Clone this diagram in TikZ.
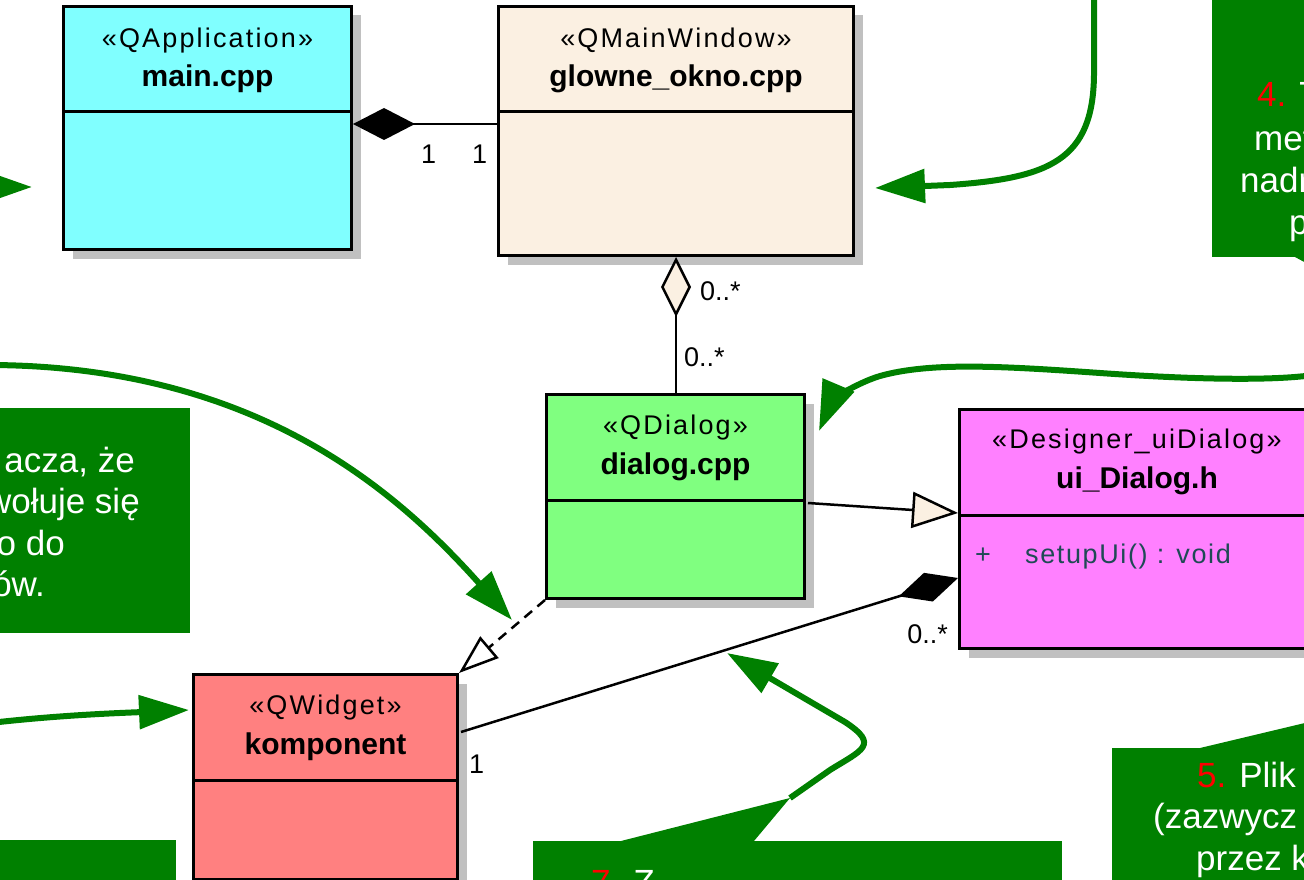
\documentclass[tikz,border=0pt]{standalone}
\usepackage{fontspec}
\setmainfont{Liberation Sans}
\usetikzlibrary{arrows.meta,calc,shadows}

\definecolor{clsCyan}{HTML}{80FFFF}
\definecolor{clsBeige}{HTML}{FBF0E2}
\definecolor{clsGreen}{HTML}{80FF80}
\definecolor{clsMagenta}{HTML}{FF80FF}
\definecolor{clsSalmon}{HTML}{FF8080}
\definecolor{shadowGray}{HTML}{C0C0C0}
\definecolor{noteGreen}{HTML}{008000}
\definecolor{attrTeal}{HTML}{1F4A55}

\tikzset{
  umlbox/.style={draw=black, line width=3pt, anchor=north west, inner sep=0pt,
    drop shadow={shadow xshift=9pt, shadow yshift=-9pt, fill=shadowGray, opacity=1}},
  stereo/.style={font=\fontsize{27}{32}\selectfont\addfontfeatures{LetterSpace=8},
    inner sep=0pt, anchor=base},
  cname/.style={font=\fontsize{30}{36}\selectfont\bfseries, inner sep=0pt, anchor=base},
  attr/.style={font=\fontsize{27}{32}\selectfont\addfontfeatures{LetterSpace=6},
    text=attrTeal, inner sep=0pt, anchor=base west},
  mult/.style={font=\fontsize{27}{32}\selectfont, inner sep=0pt},
  assoc/.style={draw=black, line width=2.5pt},
  garrow/.style={draw=noteGreen, line width=6pt, -{Triangle[length=50pt,width=33pt]}},
  notefill/.style={fill=noteGreen},
  notetxt/.style={font=\fontsize{35}{42}\selectfont, text=white, inner sep=0pt},
}

\begin{document}
\begin{tikzpicture}[x=1pt, y=-1pt]
\useasboundingbox (0,0) rectangle (1304,880);
\clip (0,0) rectangle (1304,880);

% ---------- note boxes (drawn first, behind everything) ----------
\fill[notefill] (-10,408) rectangle (190,633);
\fill[notefill] (1212,-10) rectangle (1320,257);
\fill[notefill] (1295,257) -- (1330,276) -- (1330,257) -- cycle;
\fill[notefill] (1112,748) rectangle (1320,890);
\fill[notefill] (1200,748) -- (1330,717) -- (1330,748) -- cycle;
\fill[notefill] (533,841) rectangle (1062,900);
\fill[notefill] (621,841) -- (790,798) -- (754,841) -- cycle;
\fill[notefill] (-10,840) rectangle (176,900);

% ---------- classes ----------
\node[umlbox, fill=clsCyan, minimum width=288pt, minimum height=243pt] (main) at (62,5) {};
\node[umlbox, fill=clsBeige, minimum width=355pt, minimum height=249pt] (glowne) at (497,5) {};
\node[umlbox, fill=clsGreen, minimum width=258pt, minimum height=204pt] (dialog) at (545,393) {};
\node[umlbox, fill=clsMagenta, minimum width=360pt, minimum height=239pt] (ui) at (958,408) {};
\node[umlbox, fill=clsSalmon, minimum width=264pt, minimum height=205pt] (komp) at (192,673) {};

\foreach \b in {main,glowne,dialog,ui,komp}{
  \draw[line width=3pt] ($(\b.north west)+(0,107)$) -- ($(\b.north east)+(0,107)$);
}

\node[stereo] (mainSt) at ($(main.north)+(0,43)$) {«QApplication»};
\node[cname]  (mainNm) at ($(main.north)+(0,82)$) {main.cpp};
\node[stereo] (glowneSt) at ($(glowne.north)+(0,43)$) {«QMainWindow»};
\node[cname]  (glowneNm) at ($(glowne.north)+(0,82)$) {glowne\_okno.cpp};
\node[stereo] (dialogSt) at ($(dialog.north)+(0,41)$) {«QDialog»};
\node[cname]  (dialogNm) at ($(dialog.north)+(0,81)$) {dialog.cpp};
\node[stereo] (uiSt) at ($(ui.north west)+(179,40)$) {«Designer\_uiDialog»};
\node[cname]  (uiNm) at ($(ui.north west)+(179,80)$) {ui\_Dialog.h};
\node[attr]   (uiPlus) at ($(ui.north west)+(17,155)$) {+};
\node[attr]   (uiOp) at ($(ui.north west)+(67,155)$) {setupUi() : void};
\node[stereo] (kompSt) at ($(komp.north)+(0,41)$) {«QWidget»};
\node[cname]  (kompNm) at ($(komp.north)+(0,81)$) {komponent};

% ---------- UML relations ----------
\draw[assoc, {Diamond[length=62pt,width=32pt,fill=black]}-]
  ($(main.north east)+(0,119)$) -- ($(glowne.north west)+(0,119)$);
\node[mult, anchor=base west] (m1a) at (421,164) {1};
\node[mult, anchor=base west] (m1b) at (472,164) {1};

\draw[assoc, {Diamond[length=60pt,width=30pt,fill=clsBeige]}-]
  (glowne.south) -- (glowne.south |- dialog.north);
\node[mult, anchor=base west] (m2a) at (700,300) {0..*};
\node[mult, anchor=base west] (m2b) at (684,366) {0..*};

\draw[assoc, -{Triangle[length=46pt,width=36pt,fill=clsBeige]}]
  ($(dialog.north east)+(2,110)$) -- ($(ui.north west)+(0,105)$);

\draw[assoc, dash pattern=on 10pt off 7pt, -{Triangle[open,length=40pt,width=28pt]}]
  (dialog.south west) -- (komp.north east);

\draw[assoc, -{Diamond[length=62pt,width=30pt,fill=black]}]
  ($(komp.north east)+(2,59)$) -- ($(ui.north west)+(0,170)$);
\node[mult, anchor=base east] (m3a) at (948,643) {0..*};
\node[mult, anchor=base west] (m3b) at (469,773) {1};

% ---------- green pointer arrows ----------
\coordinate (aA0) at (-40,187);
\draw[garrow] (aA0) -- ($(main.north west)+(-30,182)$);

\coordinate (aB0) at (1094,-10);
\draw[garrow] (aB0) -- (1094,75) .. controls (1093,160) and (1050,178) .. (950,185)
  -- ($(glowne.north east)+(20,183)$);

\coordinate (aC0) at (-10,365);
\draw[garrow] (aC0) .. controls (260,366) and (400,495) .. ($(dialog.south west)+(-33,20)$);

\coordinate (aD0) at (-10,723);
\draw[garrow] (aD0) .. controls (60,715) and (120,713) .. ($(komp.north west)+(-3,37)$);

\coordinate (aE0) at (1320,374);
\draw[garrow] (aE0) .. controls (1280,381) and (1200,380) .. (1100,373)
  .. controls (1000,366) and (930,362) .. (880,376)
  .. controls (850,385) and (830,405) .. ($(dialog.north east)+(13,38)$);

\coordinate (aF0) at (790,798);
\coordinate (aF1) at (727,653);
\draw[garrow] (aF0) -- (830,770) .. controls (862,750) and (880,745) .. (845,722) -- (aF1);

% ---------- note texts ----------
\node[notetxt, anchor=base east] (nL1) at (135,472) {acza, że};
\node[notetxt, anchor=base east] (nL2) at (140,513) {wołuje się};
\node[notetxt, anchor=base east] (nL3) at (65,555) {o do};
\node[notetxt, anchor=base east] (nL4) at (45,596) {ów.};

\node[notetxt, anchor=base west] (n4a) at (1257,107) {{\color{red}4.} T};
\node[notetxt, anchor=base west] (n4b) at (1254,150) {met};
\node[notetxt, anchor=base west] (n4c) at (1240,192) {nadr};
\node[notetxt, anchor=base west] (n4d) at (1289,234) {p};

\node[notetxt, anchor=base west] (n5a) at (1197,787) {{\color{red}5.} Plik};
\node[notetxt, anchor=base west] (n5b) at (1153,828) {(zazwycz};
\node[notetxt, anchor=base west] (n5c) at (1196,870) {przez k};

\node[notetxt, anchor=base west] (n7a) at (591,894) {{\color{red}7.} Z};
\end{tikzpicture}
\end{document}
